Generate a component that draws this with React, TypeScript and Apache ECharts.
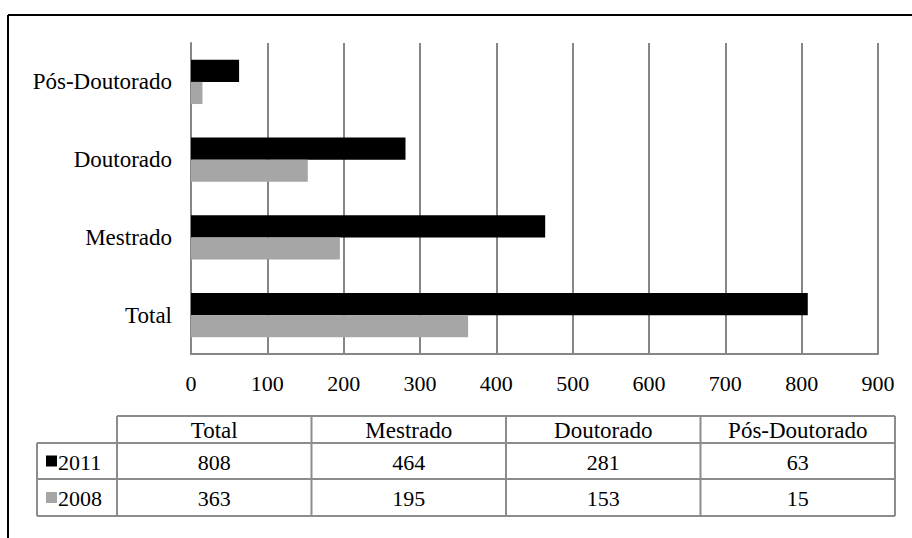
import React, { useEffect, useRef } from 'react';
import * as echarts from 'echarts';

// Pessoal titulado por nível de formação
const categories = ['Total', 'Mestrado', 'Doutorado', 'Pós-Doutorado'];
const years = ['2011', '2008'];
const values2011 = [808, 464, 281, 63];
const values2008 = [363, 195, 153, 15];
const yearColors = ['#000000', '#a6a6a6'];

const FONT = 'Liberation Serif';
const WORD_SIZE = 23;
const NUM_SIZE = 22;

export default function App() {
  const ref = useRef<HTMLDivElement>(null);

  useEffect(() => {
    const chart = echarts.init(ref.current!, null, { renderer: 'svg' });

    // data table under the plot
    const legendLeft = 37;
    const colStart = 117;
    const colW = 194.5;
    const tableTop = 416;
    const headBottom = 443;
    const rowBottoms = [479, 516];
    const tableRight = colStart + colW * categories.length;
    const lineStyle = { stroke: '#8c8c8c', lineWidth: 2 };
    const rows = [values2011, values2008];

    const els: any[] = [];
    const hLine = (y: number, x1: number, x2: number) =>
      els.push({ type: 'line', shape: { x1, y1: y, x2, y2: y }, style: lineStyle, silent: true });
    const vLine = (x: number, y1: number, y2: number) =>
      els.push({ type: 'line', shape: { x1: x, y1, x2: x, y2 }, style: lineStyle, silent: true });

    hLine(tableTop, colStart, tableRight);
    hLine(headBottom, legendLeft, tableRight);
    rowBottoms.forEach((y) => hLine(y, legendLeft, tableRight));
    vLine(legendLeft, headBottom, rowBottoms[rowBottoms.length - 1]);
    for (let i = 0; i <= categories.length; i++) {
      vLine(colStart + colW * i, tableTop, rowBottoms[rowBottoms.length - 1]);
    }

    const txt = (text: string, x: number, y: number, align: string, size: number) =>
      els.push({
        type: 'text',
        x,
        y,
        style: {
          text,
          fill: '#000',
          fontFamily: FONT,
          fontSize: size,
          align,
          verticalAlign: 'middle',
        },
        silent: true,
      });

    categories.forEach((c, i) =>
      txt(c, colStart + colW * (i + 0.5), (tableTop + headBottom) / 2 + 1, 'center', WORD_SIZE)
    );

    rows.forEach((vals, r) => {
      const yTop = r === 0 ? headBottom : rowBottoms[r - 1];
      const yMid = (yTop + rowBottoms[r]) / 2;
      els.push({
        type: 'rect',
        shape: { x: 46, y: yMid - 5.5, width: 11, height: 11 },
        style: { fill: yearColors[r] },
        silent: true,
      });
      txt(years[r], 58, yMid + 1, 'left', NUM_SIZE);
      vals.forEach((v, i) => txt(String(v), colStart + colW * (i + 0.5), yMid + 1, 'center', NUM_SIZE));
    });

    // outer frame (top and left edges)
    els.push({ type: 'line', shape: { x1: 8, y1: 15, x2: 912, y2: 15 }, style: { stroke: '#000', lineWidth: 2 }, silent: true });
    els.push({ type: 'line', shape: { x1: 8, y1: 15, x2: 8, y2: 538 }, style: { stroke: '#000', lineWidth: 2 }, silent: true });

    chart.setOption({
      animation: false,
      backgroundColor: '#ffffff',
      textStyle: { fontFamily: FONT },
      grid: { left: 191, right: 912 - 878, top: 43, bottom: 538 - 354, containLabel: false },
      xAxis: {
        type: 'value',
        min: 0,
        max: 900,
        interval: 100,
        axisLine: { show: true, lineStyle: { color: '#868686', width: 2 } },
        axisTick: { show: false },
        splitLine: { show: true, lineStyle: { color: '#868686', width: 2 } },
        axisLabel: { color: '#000', fontSize: NUM_SIZE, fontFamily: FONT, margin: 18 },
      },
      yAxis: {
        type: 'category',
        data: categories,
        axisLine: { show: true, lineStyle: { color: '#868686', width: 2 } },
        axisTick: { show: false },
        splitLine: { show: false },
        axisLabel: { color: '#000', fontSize: WORD_SIZE, fontFamily: FONT, margin: 19 },
      },
      series: [
        {
          name: years[0],
          type: 'bar',
          data: values2011,
          itemStyle: { color: yearColors[0] },
          barGap: '0%',
          barCategoryGap: '43%',
        },
        {
          name: years[1],
          type: 'bar',
          data: values2008,
          itemStyle: { color: yearColors[1] },
          barGap: '0%',
          barCategoryGap: '43%',
        },
      ],
      graphic: { elements: els },
    });

    return () => chart.dispose();
  }, []);

  return <div ref={ref} style={{ position: 'fixed', left: 0, top: 0, width: 912, height: 538 }} />;
}
